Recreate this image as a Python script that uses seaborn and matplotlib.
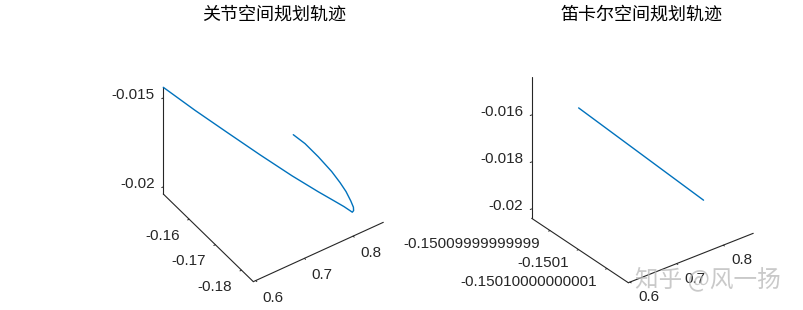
import numpy as np
import matplotlib
matplotlib.use("Agg")
import matplotlib.pyplot as plt
import seaborn as sns
from mpl_toolkits.mplot3d import proj3d

# ---------------- data ----------------
# joint-space planned trajectory (left)
joint_x = [0.59500, 0.62621, 0.66052, 0.69408, 0.72877, 0.75875, 0.77798, 0.78991, 0.79576,
           0.79869, 0.80342, 0.80919, 0.81677, 0.82732, 0.83557, 0.84448, 0.85388, 0.86064, 0.86200]
joint_y = [-0.15010, -0.156406, -0.162639, -0.168624, -0.174400, -0.178755, -0.181290, -0.182894,
           -0.183908, -0.184431, -0.184049, -0.182900, -0.180500, -0.176698, -0.172870, -0.168036,
           -0.161166, -0.154823, -0.15010]
joint_z = [-0.01440, -0.015180, -0.015992, -0.016779, -0.017566, -0.018206, -0.018600, -0.018846,
           -0.018981, -0.019050, -0.019074, -0.019120, -0.019210, -0.019353, -0.019499, -0.019685,
           -0.019955, -0.020207, -0.02040]

# Cartesian-space planned trajectory (right)
cart_x = [0.5964, 0.8644]
cart_y = [-0.1501, -0.1501]
cart_z = [-0.01437, -0.02040]

# axis limits / ticks
left_xlim = (0.595, 0.862)
left_ylim = (-0.1845, -0.1501)
left_zlim = (-0.0204, -0.0144)
left_xticks = [0.6, 0.7, 0.8]
left_xticklabels = ["0.6", "0.7", "0.8"]
left_yticks = [-0.18, -0.17, -0.16]
left_yticklabels = ["-0.18", "-0.17", "-0.16"]
left_zticks = [-0.02, -0.015]
left_zticklabels = ["-0.02", "-0.015"]

right_xlim = (0.5964, 0.8644)
right_ylim = (-0.15010000000001746, -0.15009999999998356)
right_zlim = (-0.0204, -0.01437)
right_xticks = [0.6, 0.7, 0.8]
right_xticklabels = ["0.6", "0.7", "0.8"]
right_yticks = [-0.15010000000001, -0.1501, -0.15009999999999]
right_yticklabels = ["-0.15010000000001", "-0.1501", "-0.15009999999999"]
right_zticks = [-0.02, -0.018, -0.016]
right_zticklabels = ["-0.02", "-0.018", "-0.016"]

titles = ["关节空间规划轨迹", "笛卡尔空间规划轨迹"]
watermark = "知乎 @风一扬"

# ---------------- style ----------------
sns.set_theme(style="white")
plt.rcParams["font.family"] = ["Liberation Sans", "Noto Sans CJK SC", "DejaVu Sans"]
LINE = "#0072BD"
AX = "#262626"

W, H = 804, 310
fig = plt.figure(figsize=(W / 100, H / 100), dpi=100)
fig.patch.set_facecolor("white")

ax1 = fig.add_subplot(121, projection="3d", proj_type="ortho")
ax2 = fig.add_subplot(122, projection="3d", proj_type="ortho")

ax1.plot(joint_x, joint_y, joint_z, color=LINE, lw=1.0, solid_joinstyle="round")
ax2.plot(cart_x, cart_y, cart_z, color=LINE, lw=1.0)


def style(ax, xl, yl, zl, xt, yt, zt, elev, azim, box):
    ax.set_xlim(*xl, view_margin=0)
    ax.set_ylim(*yl, view_margin=0)
    ax.set_zlim(*zl, view_margin=0)
    ax.set_xticks(xt)
    ax.set_yticks(yt)
    ax.set_zticks(zt)
    ax.xaxis.set_ticklabels([])
    ax.yaxis.set_ticklabels([])
    ax.zaxis.set_ticklabels([])
    ax.view_init(elev=elev, azim=azim)
    ax.set_box_aspect(box)
    ax.grid(False)
    ax.set_facecolor("none")
    for axis in (ax.xaxis, ax.yaxis, ax.zaxis):
        axis.set_pane_color((1, 1, 1, 0))
        axis.line.set_color(AX)
        axis.line.set_linewidth(0.8)
        axis._axinfo["tick"]["inward_factor"] = 0.15
        axis._axinfo["tick"]["outward_factor"] = 0.0
        axis._axinfo["tick"]["linewidth"] = {True: 0.7, False: 0.5}
    ax.tick_params(colors=AX)


style(ax1, left_xlim, left_ylim, left_zlim, left_xticks, left_yticks, left_zticks,
      41.8, -124.4, (157.5, 159.3, 143.1))
style(ax2, right_xlim, right_ylim, right_zlim, right_xticks, right_yticks, right_zticks,
      30.9, -127.6, (157.7, 158.3, 165.1))


def to_px(ax, x, y, z):
    xs, ys, _ = proj3d.proj_transform(x, y, z, ax.get_proj())
    dx, dy = ax.transData.transform((xs, ys))
    return dx, H - dy


def align(ax, corners, targets):
    fig.canvas.draw()
    P = np.array([to_px(ax, *c) for c in corners])
    P[:, 1] = H - P[:, 1]
    T = np.array([(tx, H - ty) for tx, ty in targets])
    Pm, Tm = P.mean(0), T.mean(0)
    s = np.sum((P - Pm) * (T - Tm)) / np.sum((P - Pm) ** 2)
    t = Tm - s * Pm
    bb = ax.get_position(original=False)
    x0, y0, w, h = bb.x0 * W, bb.y0 * H, bb.width * W, bb.height * H
    ax.set_position([(s * x0 + t[0]) / W, (s * y0 + t[1]) / H, s * w / W, s * h / H])


xl, yl, zl = left_xlim, left_ylim, left_zlim
align(ax1,
      [(xl[0], yl[1], zl[1]), (xl[0], yl[1], zl[0]), (xl[0], yl[0], zl[0]), (xl[1], yl[0], zl[0])],
      [(163.3, 87.3), (163.3, 194.0), (253.3, 281.7), (383.3, 222.3)])
xl, yl, zl = right_xlim, right_ylim, right_zlim
align(ax2,
      [(xl[0], yl[1], zl[1]), (xl[0], yl[1], zl[0]), (xl[0], yl[0], zl[0]), (xl[1], yl[0], zl[0])],
      [(531.7, 76.7), (531.7, 218.3), (628.3, 282.7), (753.3, 233.3)])
fig.canvas.draw()


def put(ax, pts, labels, off, ha):
    for (x, y, z), lab in zip(pts, labels):
        px, py = to_px(ax, x, y, z)
        fig.text((px + off[0]) / W, 1 - (py + off[1]) / H, lab, ha=ha, va="center",
                 fontsize=11, color=AX)


# left tick labels
xl, yl, zl = left_xlim, left_ylim, left_zlim
put(ax1, [(v, yl[0], zl[0]) for v in left_xticks], left_xticklabels, (7, 17), "left")
put(ax1, [(xl[0], v, zl[0]) for v in left_yticks], left_yticklabels, (-9.5, 16.5), "right")
put(ax1, [(xl[0], yl[1], v) for v in left_zticks], left_zticklabels, (-8.5, -2.5), "right")
# right tick labels
xl, yl, zl = right_xlim, right_ylim, right_zlim
put(ax2, [(v, yl[0], zl[0]) for v in right_xticks], right_xticklabels, (8, 15), "left")
put(ax2, [(xl[0], v, zl[0]) for v in right_yticks], right_yticklabels, (-10, 13), "right")
put(ax2, [(xl[0], yl[1], v) for v in right_zticks], right_zticklabels, (-8.5, -2.5), "right")

fig.text(274 / W, 1 - 15 / H, titles[0], ha="center", va="center", fontsize=13,
         family=["Noto Sans CJK SC"], color="black")
fig.text(642 / W, 1 - 15 / H, titles[1], ha="center", va="center", fontsize=13,
         family=["Noto Sans CJK SC"], color="black")
fig.text(708 / W, 1 - 279 / H, watermark, ha="center", va="center", fontsize=17,
         family=["Noto Sans CJK SC"], color="#b8b8b8", alpha=0.75, zorder=10)

fig.savefig("out.png", dpi=100, facecolor="white")
